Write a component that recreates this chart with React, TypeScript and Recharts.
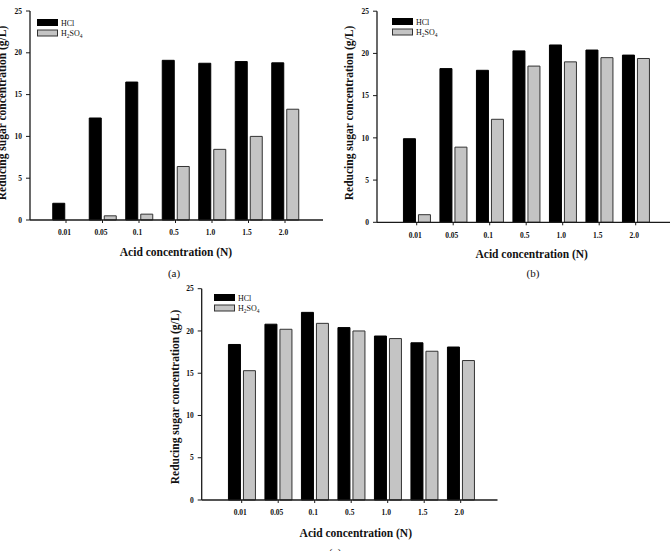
import React from 'react';
import { BarChart, Bar, XAxis, YAxis, Legend } from 'recharts';

// Acid concentrations (N) on the category axis
const concentrations = ['0.01', '0.05', '0.1', '0.5', '1.0', '1.5', '2.0'];
const yTicks = [0, 5, 10, 15, 20, 25];

// Reducing sugar concentration (g/L), panel (a)
const hclA = [2.0, 12.2, 16.5, 19.1, 18.75, 18.95, 18.8];
const h2so4A = [0, 0.5, 0.7, 6.4, 8.45, 10.0, 13.25];

// Panel (b)
const hclB = [9.9, 18.2, 18.0, 20.3, 21.0, 20.4, 19.8];
const h2so4B = [0.9, 8.9, 12.2, 18.5, 19.0, 19.5, 19.4];

// Panel (c)
const hclC = [18.4, 20.8, 22.2, 20.4, 19.4, 18.6, 18.1];
const h2so4C = [15.3, 20.2, 20.9, 20.0, 19.1, 17.6, 16.5];

const seriesOrder = ['hcl', 'h2so4'];

const SERIF = "'Liberation Serif', 'Times New Roman', Times, serif";
const HCL_FILL = '#000000';
const ACID2_FILL = '#c4c4c4';
const AXIS_COLOR = '#1a1a1a';

const xTitle = 'Acid concentration (N)';
const yTitle = 'Reducing sugar concentration (g/L)';

// Draw digits in a formula name as subscripts
function chemText(name: string) {
  const parts = name.split(/(\d+)/).filter(Boolean);
  let shifted = false;
  return parts.map((p, i) => {
    const isNum = /^\d+$/.test(p);
    const dy = isNum ? (shifted ? 0 : 1.8) : shifted ? -1.8 : 0;
    shifted = isNum;
    return (
      <tspan key={i} dy={dy} fontSize={isNum ? 5.5 : 8}>
        {p}
      </tspan>
    );
  });
}

const renderLegend = (props: any) => {
  const payload = [...(props.payload || [])].sort(
    (a: any, b: any) => seriesOrder.indexOf(a.dataKey) - seriesOrder.indexOf(b.dataKey)
  );
  return (
    <svg width={70} height={20} style={{ display: 'block', overflow: 'visible' }}>
      {payload.map((entry: any, i: number) => (
        <g key={i} transform={`translate(0, ${i * 10.5})`}>
          <rect
            x={0.5}
            y={0.5}
            width={20}
            height={6}
            fill={entry.color}
            stroke={entry.dataKey === 'hcl' ? '#000' : '#333'}
            strokeWidth={1}
          />
          <text x={24} y={6.8} fontFamily={SERIF} fontSize={8} fill="#111">
            {chemText(String(entry.value))}
          </text>
        </g>
      ))}
    </svg>
  );
};

type PanelProps = {
  left: number;
  top: number;
  width: number;
  height: number;
  plotLeft: number;
  plotRight: number;
  plotTop: number;
  plotBottom: number;
  padL: number;
  padR: number;
  hcl: number[];
  h2so4: number[];
  legendX: number;
  legendY: number;
  xTitlePos: [number, number];
  yTitlePos: [number, number];
  captionPos: [number, number];
  caption: string;
};

const X_AXIS_H = 30;

function Panel(p: PanelProps) {
  const rows = concentrations.map((c, i) => ({ conc: c, hcl: p.hcl[i], h2so4: p.h2so4[i] }));
  return (
    <div
      style={{
        position: 'absolute',
        left: p.left,
        top: p.top,
        width: p.width,
        height: p.height,
      }}
    >
      <BarChart
        width={p.width}
        height={p.height}
        data={rows}
        margin={{
          top: p.plotTop,
          right: p.width - p.plotRight,
          bottom: p.height - p.plotBottom - X_AXIS_H,
          left: 0,
        }}
        barSize={12}
        barGap={3}
      >
        <XAxis
          dataKey="conc"
          type="category"
          interval={0}
          height={X_AXIS_H}
          padding={{ left: p.padL, right: p.padR }}
          axisLine={{ stroke: AXIS_COLOR, strokeWidth: 1.3 }}
          tickLine={{ stroke: AXIS_COLOR, strokeWidth: 1 }}
          tickSize={3}
          tickMargin={7}
          tick={{ fontFamily: SERIF, fontSize: 7.5, fontWeight: 700, fill: '#111', dx: -1.5 }}
        />
        <YAxis
          type="number"
          domain={[0, 25]}
          ticks={yTicks}
          width={p.plotLeft}
          axisLine={{ stroke: AXIS_COLOR, strokeWidth: 1.3 }}
          tickLine={{ stroke: AXIS_COLOR, strokeWidth: 1 }}
          tickSize={4}
          tickMargin={4}
          tick={{ fontFamily: SERIF, fontSize: 7.5, fontWeight: 700, fill: '#111' }}
        />
        <Legend
          layout="vertical"
          align="center"
          verticalAlign="middle"
          content={renderLegend}
          wrapperStyle={{ position: 'absolute', left: p.legendX, top: p.legendY, width: 70, height: 20 }}
        />
        <Bar
          dataKey="hcl"
          name="HCl"
          fill={HCL_FILL}
          stroke="#000"
          strokeWidth={1}
          legendType="rect"
          isAnimationActive={false}
        />
        <Bar
          dataKey="h2so4"
          name="H2SO4"
          fill={ACID2_FILL}
          stroke="#333"
          strokeWidth={1}
          legendType="rect"
          isAnimationActive={false}
        />
      </BarChart>
      <svg
        width={p.width}
        height={p.height}
        style={{ position: 'absolute', left: 0, top: 0, pointerEvents: 'none', overflow: 'visible' }}
      >
        <text
          x={p.xTitlePos[0]}
          y={p.xTitlePos[1]}
          textAnchor="middle"
          fontFamily={SERIF}
          fontWeight={700}
          fontSize={11.5}
          fill="#111"
        >
          {xTitle}
        </text>
        <text
          x={p.yTitlePos[0]}
          y={p.yTitlePos[1]}
          textAnchor="middle"
          transform={`rotate(-90 ${p.yTitlePos[0]} ${p.yTitlePos[1]})`}
          fontFamily={SERIF}
          fontWeight={700}
          fontSize={11.5}
          fill="#111"
        >
          {yTitle}
        </text>
        <text
          x={p.captionPos[0]}
          y={p.captionPos[1]}
          textAnchor="middle"
          fontFamily={SERIF}
          fontSize={11}
          fill="#111"
        >
          {p.caption}
        </text>
      </svg>
    </div>
  );
}

export default function App() {
  return (
    <div
      style={{
        position: 'absolute',
        left: 0,
        top: 0,
        width: 670,
        height: 551,
        overflow: 'hidden',
        background: '#ffffff',
      }}
    >
      <Panel
        left={0}
        top={0}
        width={335}
        height={280}
        plotLeft={30}
        plotRight={323}
        plotTop={11}
        plotBottom={220}
        padL={17.75}
        padR={19.75}
        hcl={hclA}
        h2so4={h2so4A}
        legendX={36.5}
        legendY={18.5}
        xTitlePos={[176, 256]}
        yTitlePos={[5.5, 113]}
        captionPos={[174, 276.5]}
        caption="(a)"
      />
      <Panel
        left={335}
        top={0}
        width={340}
        height={280}
        plotLeft={42}
        plotRight={337}
        plotTop={11.2}
        plotBottom={222.3}
        padL={21.45}
        padR={18.05}
        hcl={hclB}
        h2so4={h2so4B}
        legendX={56.7}
        legendY={18.3}
        xTitlePos={[196.7, 258]}
        yTitlePos={[17.5, 113]}
        captionPos={[198, 277]}
        caption="(b)"
      />
      <Panel
        left={160}
        top={280}
        width={350}
        height={271}
        plotLeft={41.7}
        plotRight={337.5}
        plotTop={8.7}
        plotBottom={220}
        padL={21.75}
        padR={18.55}
        hcl={hclC}
        h2so4={h2so4C}
        legendX={54}
        legendY={14}
        xTitlePos={[195.8, 256.5]}
        yTitlePos={[19.2, 117]}
        captionPos={[175, 276]}
        caption="(c)"
      />
    </div>
  );
}
